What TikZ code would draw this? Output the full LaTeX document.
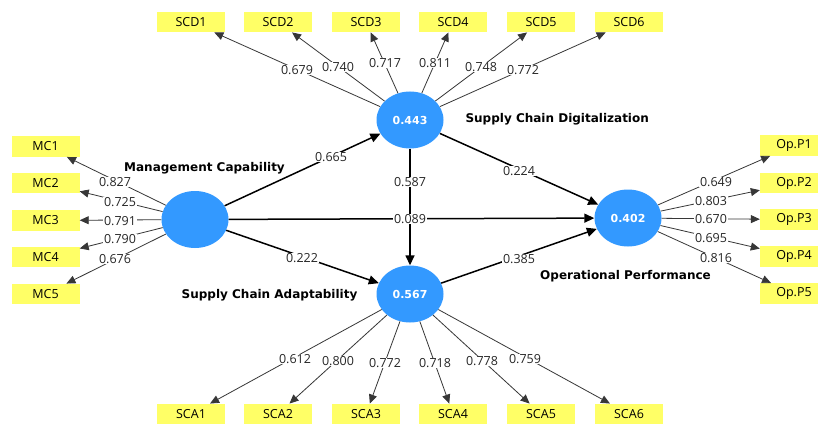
\documentclass[tikz,border=0pt]{standalone}
\usepackage{fontspec}
\setmainfont{Open Sans}
\newfontfamily\lblfont{DejaVu Sans}
\usetikzlibrary{arrows.meta,shapes.geometric}
\definecolor{boxyel}{RGB}{255,255,102}
\definecolor{lvblue}{RGB}{51,153,255}
\definecolor{loadgray}{RGB}{55,55,55}
\begin{document}
\begin{tikzpicture}[x=1pt,y=-1pt,
  ind/.style={fill=boxyel,minimum width=68pt,minimum height=20.5pt,inner sep=0pt,font=\fontsize{12.5}{13}\selectfont},
  lv/.style={ellipse,fill=lvblue,minimum width=67pt,minimum height=57pt,inner sep=0pt,text=white,font=\lblfont\bfseries\fontsize{11}{12}\selectfont},
  load/.style={draw=loadgray,line width=0.8pt,-{Triangle[length=9pt,width=8pt]}},
  struct/.style={draw=black,line width=1.5pt,-{Triangle[length=10pt,width=9pt]}},
  num/.style={fill=white,inner sep=0.6pt,font=\fontsize{12.5}{13}\selectfont,text=black!85},
  cname/.style={font=\lblfont\bfseries\fontsize{12}{14}\selectfont}
]
\useasboundingbox (0,0) rectangle (818,425);
\fill[white] (0,0) rectangle (818,425);

% latent variables
\node[lv] (scd) at (410,120) {0.443};
\node[lv] (sca) at (410,294) {0.567};
\node[lv] (mc) at (195,219.5) {};
\node[lv] (op) at (628,218) {0.402};

% indicators
\foreach \i/\x in {1/191,2/278,3/366,4/453,5/541,6/629}{
  \node[ind] (scd\i) at (\x,22) {SCD\i};
  \node[ind] (sca\i) at (\x,414) {SCA\i};
}
\foreach \i/\y in {1/146.5,2/183,3/220.5,4/257,5/294}{
  \node[ind] (mc\i) at (45.5,\y) {MC\i};
}
\foreach \i/\y in {1/145.5,2/183,3/219.5,4/256.5,5/293.5}{
  \node[ind] (op\i) at (794,\y) {Op.P\i};
}

% loadings
\foreach \i in {1,...,6}{
  \draw[load] (scd) -- (scd\i);
  \draw[load] (sca) -- (sca\i);
}
\foreach \i in {1,...,5}{
  \draw[load] (mc) -- (mc\i);
  \draw[load] (op) -- (op\i);
}

% structural paths
\draw[struct] (mc) -- (scd);
\draw[struct] (mc) -- (sca);
\draw[struct] (mc) -- (op);
\draw[struct] (scd) -- (op);
\draw[struct] (scd) -- (sca);
\draw[struct] (sca) -- (op);

% loading labels
\node[num] (lscd1) at (297,70) {0.679};
\node[num] (lscd2) at (338,67) {0.740};
\node[num] (lscd3) at (385,63) {0.717};
\node[num] (lscd4) at (435,63) {0.811};
\node[num] (lscd5) at (481,67) {0.748};
\node[num] (lscd6) at (523,70) {0.772};

\node[num] (lsca1) at (295,359) {0.612};
\node[num] (lsca2) at (338,361) {0.800};
\node[num] (lsca3) at (385,363) {0.772};
\node[num] (lsca4) at (435,363) {0.718};
\node[num] (lsca5) at (482,361) {0.778};
\node[num] (lsca6) at (525,359) {0.759};

\node[num] (lmc1) at (115,182) {0.827};
\node[num] (lmc2) at (120,202) {0.725};
\node[num] (lmc3) at (120,221) {0.791};
\node[num] (lmc4) at (120,239) {0.790};
\node[num] (lmc5) at (115,259) {0.676};

\node[num] (lop1) at (716,182) {0.649};
\node[num] (lop2) at (711,201) {0.803};
\node[num] (lop3) at (711,219) {0.670};
\node[num] (lop4) at (711,238) {0.695};
\node[num] (lop5) at (716,258) {0.816};

% path coefficients
\node[num] (p1) at (331,157) {0.665};
\node[num] (p2) at (410,182) {0.587};
\node[num] (p3) at (410,219) {0.089};
\node[num] (p4) at (519,171) {0.224};
\node[num] (p5) at (302,258) {0.222};
\node[num] (p6) at (519,259) {0.385};

% construct names
\node[cname,anchor=west] (nscd) at (462,119) {Supply Chain Digitalization};
\node[cname] (nmc) at (204.5,168) {Management Capability};
\node[cname] (nsca) at (269.5,295) {Supply Chain Adaptability};
\node[cname] (nop) at (625.5,276) {Operational Performance};
\end{tikzpicture}
\end{document}
